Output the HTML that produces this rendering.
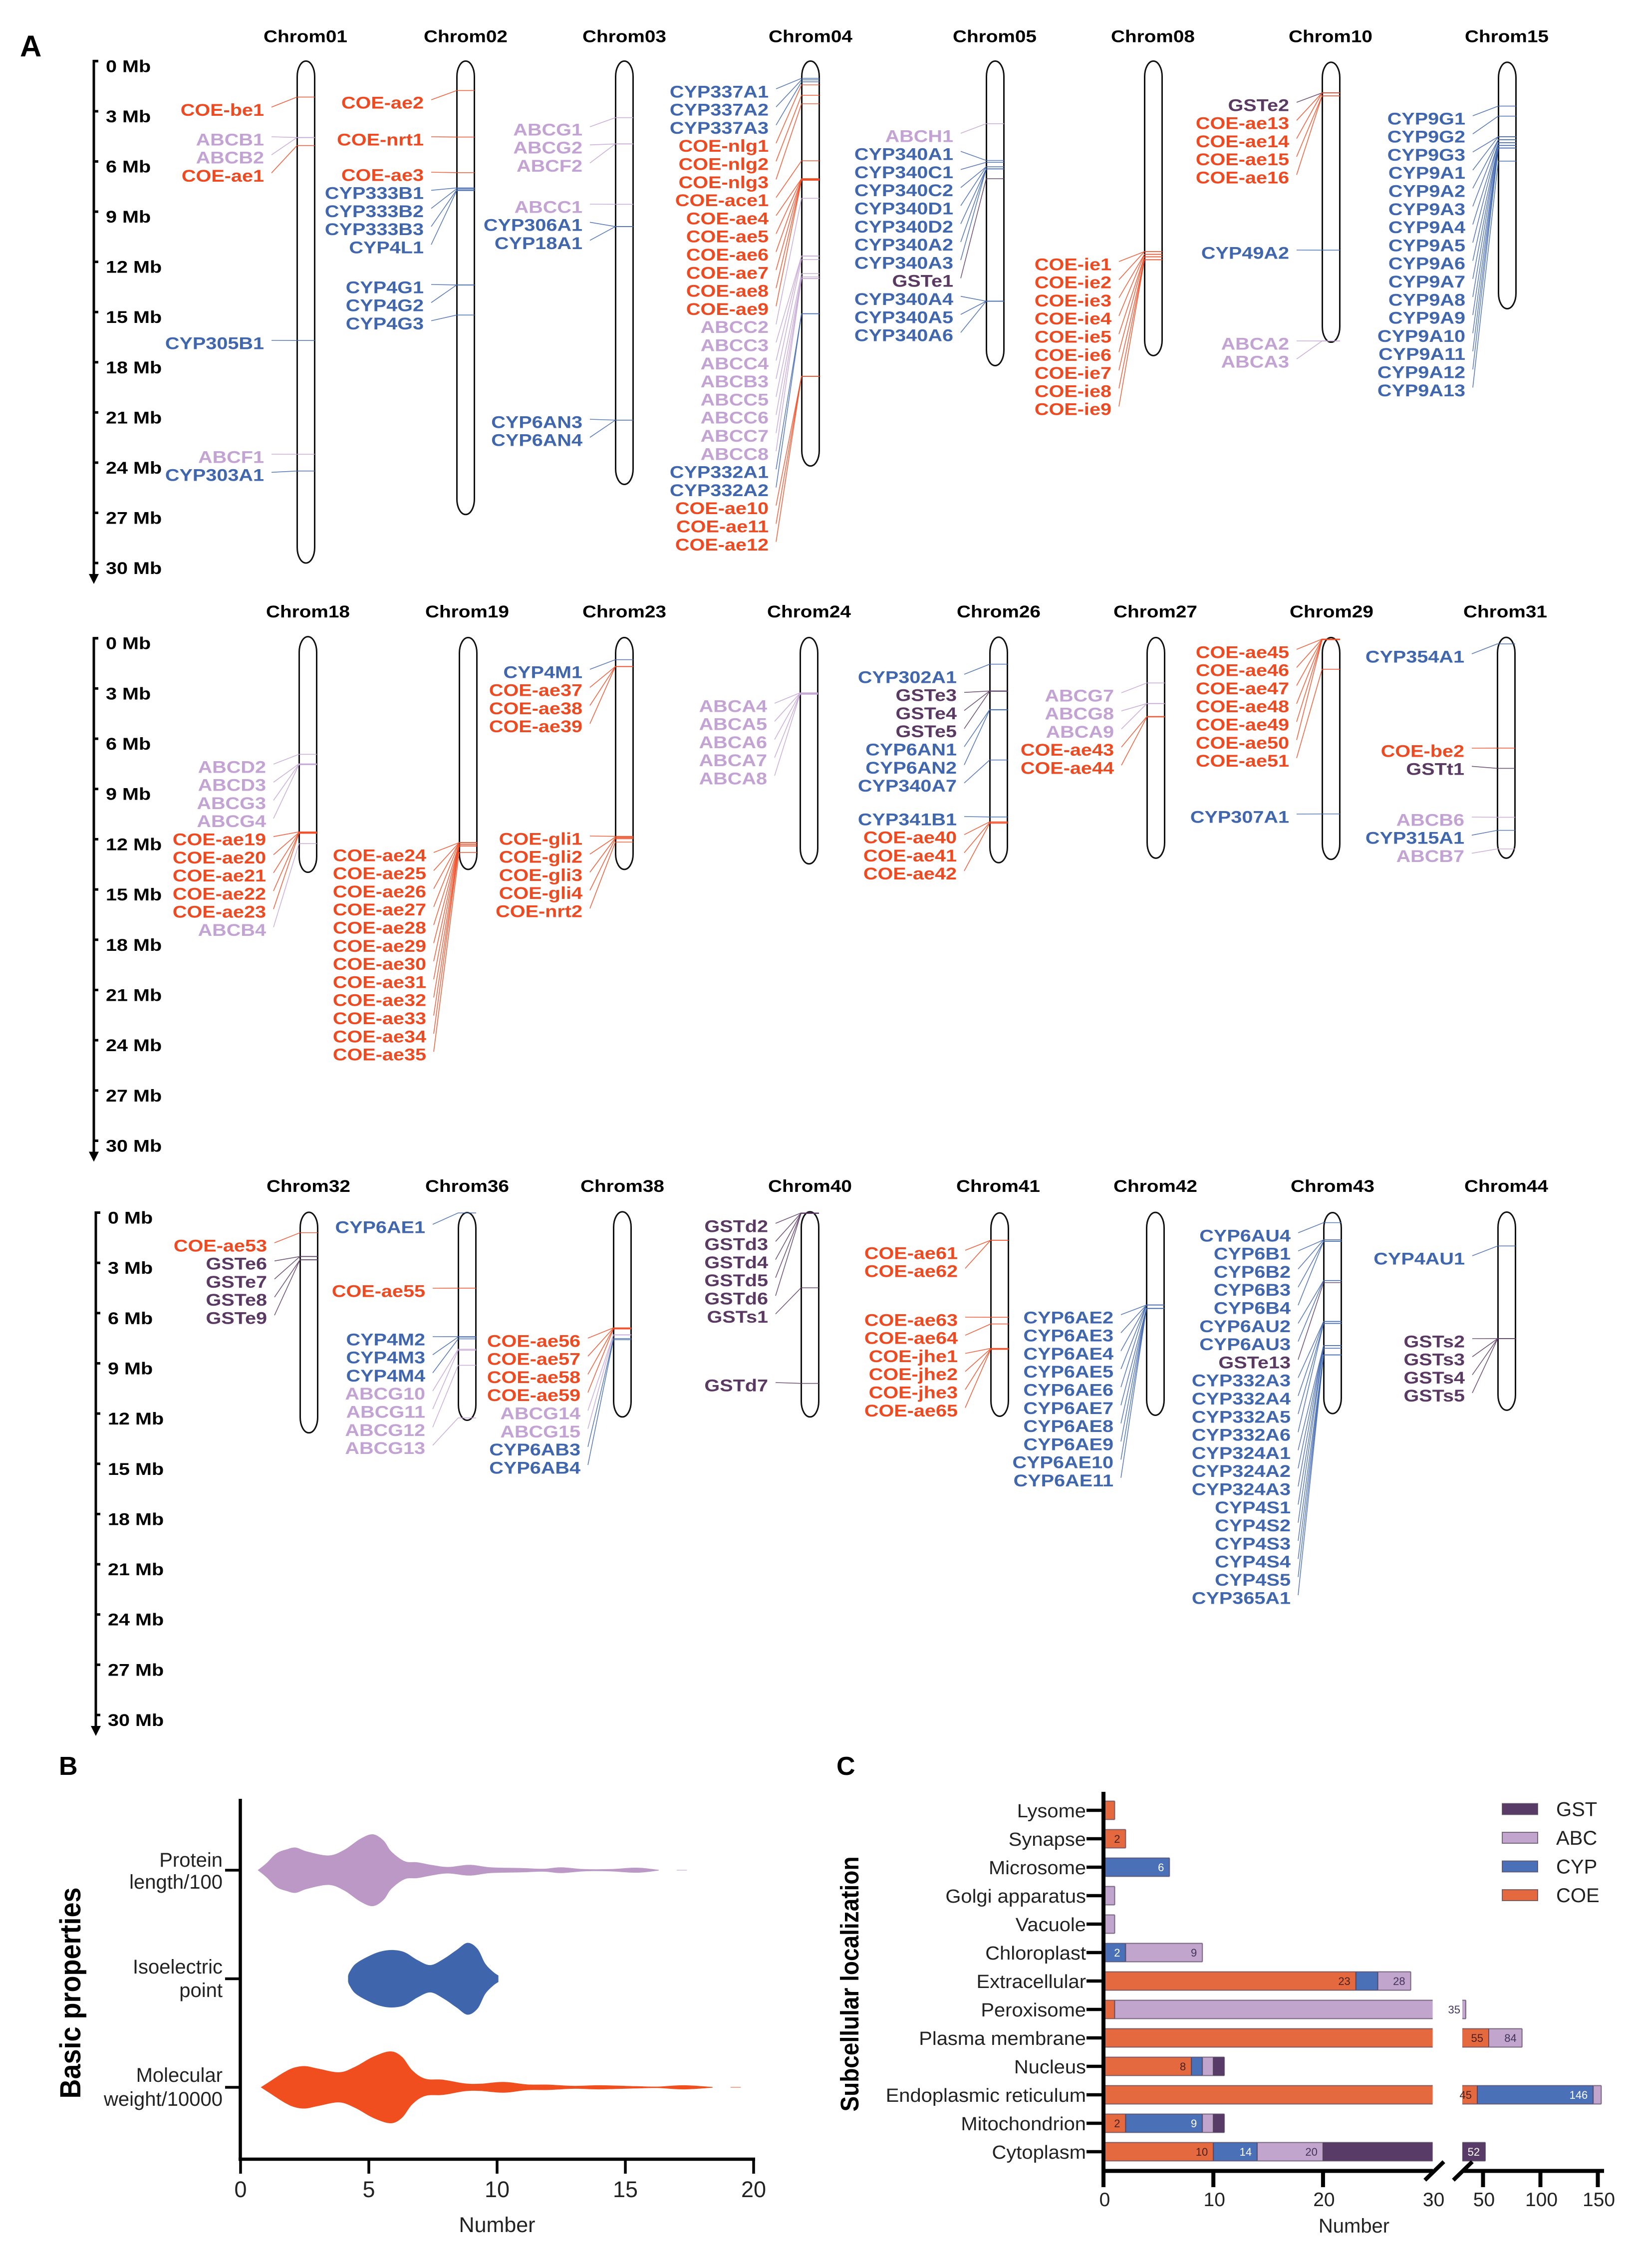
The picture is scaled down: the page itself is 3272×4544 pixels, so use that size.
<!DOCTYPE html>
<html lang="en">
<head>
<meta charset="utf-8">
<title>Chromosome distribution, basic properties and subcellular localization</title>
<style>
html,body{margin:0;padding:0;background:#fff}
svg{display:block}
text{font-family:"Liberation Sans",sans-serif}
</style>
</head>
<body>
<svg id="figure" xmlns="http://www.w3.org/2000/svg" width="3272" height="4544" viewBox="0 0 3272 4544">
  <rect width="3272" height="4544" fill="#fff"/>
  <g id="panel-a"></g>
  <g id="panel-b"></g>
  <g id="panel-c"></g>
  <text x="40" y="113" font-size="60" font-weight="bold">A</text>
  <text x="118" y="3556" font-size="52" font-weight="bold">B</text>
  <text x="1676" y="3556" font-size="52" font-weight="bold">C</text>
  <text transform="translate(161,3993) rotate(-90) scale(1,1.08)" text-anchor="middle" font-size="54" font-weight="bold">Basic properties</text>
  <text x="996" y="4472" text-anchor="middle" font-size="43" fill="#222">Number</text>
  <text transform="translate(1720,3975) rotate(-90) scale(1,1.1)" text-anchor="middle" font-size="46" font-weight="bold">Subcellular localization</text>
  <text x="2713" y="4473" text-anchor="middle" font-size="40" fill="#222">Number</text>
</svg>
<script>
// ---------- Panel A data ----------
const mbTicks = [0, 3, 6, 9, 12, 15, 18, 21, 24, 27, 30];
const chromNames = ['Chrom01','Chrom02','Chrom03','Chrom04','Chrom05','Chrom08','Chrom10','Chrom15',
  'Chrom18','Chrom19','Chrom23','Chrom24','Chrom26','Chrom27','Chrom29','Chrom31',
  'Chrom32','Chrom36','Chrom38','Chrom40','Chrom41','Chrom42','Chrom43','Chrom44'];
const chromStartMb = [0,0,0,0,0,0,0.07,0.07, -0.09,-0.04,-0.04,-0.04,-0.06,-0.04,-0.04,-0.05, -0.02,0,-0.05,-0.05,0.02,-0.01,0,-0.03];
const chromEndMb = [30,27.1,25.3,24.2,18.2,17.6,16.8,14.8, 13.97,13.8,13.8,13.47,13.4,13.13,13.2,13.13, 13.15,12.4,12.2,12.2,12.16,12.1,12.0,11.8];
const geneNames = [
 ['COE-be1','ABCB1','ABCB2','COE-ae1','CYP305B1','ABCF1','CYP303A1'],
 ['COE-ae2','COE-nrt1','COE-ae3','CYP333B1','CYP333B2','CYP333B3','CYP4L1','CYP4G1','CYP4G2','CYP4G3'],
 ['ABCG1','ABCG2','ABCF2','ABCC1','CYP306A1','CYP18A1','CYP6AN3','CYP6AN4'],
 ['CYP337A1','CYP337A2','CYP337A3','COE-nlg1','COE-nlg2','COE-nlg3','COE-ace1','COE-ae4','COE-ae5','COE-ae6','COE-ae7','COE-ae8','COE-ae9','ABCC2','ABCC3','ABCC4','ABCB3','ABCC5','ABCC6','ABCC7','ABCC8','CYP332A1','CYP332A2','COE-ae10','COE-ae11','COE-ae12'],
 ['ABCH1','CYP340A1','CYP340C1','CYP340C2','CYP340D1','CYP340D2','CYP340A2','CYP340A3','GSTe1','CYP340A4','CYP340A5','CYP340A6'],
 ['COE-ie1','COE-ie2','COE-ie3','COE-ie4','COE-ie5','COE-ie6','COE-ie7','COE-ie8','COE-ie9'],
 ['GSTe2','COE-ae13','COE-ae14','COE-ae15','COE-ae16','CYP49A2','ABCA2','ABCA3'],
 ['CYP9G1','CYP9G2','CYP9G3','CYP9A1','CYP9A2','CYP9A3','CYP9A4','CYP9A5','CYP9A6','CYP9A7','CYP9A8','CYP9A9','CYP9A10','CYP9A11','CYP9A12','CYP9A13'],
 ['ABCD2','ABCD3','ABCG3','ABCG4','COE-ae19','COE-ae20','COE-ae21','COE-ae22','COE-ae23','ABCB4'],
 ['COE-ae24','COE-ae25','COE-ae26','COE-ae27','COE-ae28','COE-ae29','COE-ae30','COE-ae31','COE-ae32','COE-ae33','COE-ae34','COE-ae35'],
 ['CYP4M1','COE-ae37','COE-ae38','COE-ae39','COE-gli1','COE-gli2','COE-gli3','COE-gli4','COE-nrt2'],
 ['ABCA4','ABCA5','ABCA6','ABCA7','ABCA8'],
 ['CYP302A1','GSTe3','GSTe4','GSTe5','CYP6AN1','CYP6AN2','CYP340A7','CYP341B1','COE-ae40','COE-ae41','COE-ae42'],
 ['ABCG7','ABCG8','ABCA9','COE-ae43','COE-ae44'],
 ['COE-ae45','COE-ae46','COE-ae47','COE-ae48','COE-ae49','COE-ae50','COE-ae51','CYP307A1'],
 ['CYP354A1','COE-be2','GSTt1','ABCB6','CYP315A1','ABCB7'],
 ['COE-ae53','GSTe6','GSTe7','GSTe8','GSTe9'],
 ['CYP6AE1','COE-ae55','CYP4M2','CYP4M3','CYP4M4','ABCG10','ABCG11','ABCG12','ABCG13'],
 ['COE-ae56','COE-ae57','COE-ae58','COE-ae59','ABCG14','ABCG15','CYP6AB3','CYP6AB4'],
 ['GSTd2','GSTd3','GSTd4','GSTd5','GSTd6','GSTs1','GSTd7'],
 ['COE-ae61','COE-ae62','COE-ae63','COE-ae64','COE-jhe1','COE-jhe2','COE-jhe3','COE-ae65'],
 ['CYP6AE2','CYP6AE3','CYP6AE4','CYP6AE5','CYP6AE6','CYP6AE7','CYP6AE8','CYP6AE9','CYP6AE10','CYP6AE11'],
 ['CYP6AU4','CYP6B1','CYP6B2','CYP6B3','CYP6B4','CYP6AU2','CYP6AU3','GSTe13','CYP332A3','CYP332A4','CYP332A5','CYP332A6','CYP324A1','CYP324A2','CYP324A3','CYP4S1','CYP4S2','CYP4S3','CYP4S4','CYP4S5','CYP365A1'],
 ['CYP4AU1','GSTs2','GSTs3','GSTs4','GSTs5']
];
const genePositionsMb = [
 [2.15,4.57,4.57,5.05,16.7,23.5,24.5],
 [1.76,4.54,6.67,7.58,7.63,7.7,7.74,13.38,13.38,15.18],
 [3.38,4.95,4.95,8.56,9.89,9.89,21.46,21.46],
 [1.03,1.12,1.24,1.42,2.04,2.55,5.96,7.03,7.03,7.08,7.08,7.12,7.12,8.2,11.65,11.65,11.86,12.7,12.9,13.0,13.0,15.1,15.1,18.84,18.84,18.84],
 [3.74,5.94,6.05,6.32,6.32,6.44,6.44,6.44,7.03,14.35,14.35,14.35],
 [11.39,11.39,11.55,11.55,11.7,11.7,11.87,11.87,11.87],
 [1.9,1.9,1.9,2.08,2.08,11.3,16.73,16.73],
 [2.69,3.29,4.52,4.52,4.7,4.7,4.88,4.88,5.04,5.04,5.04,5.2,5.2,5.2,5.2,5.98],
 [6.93,7.5,7.52,7.55,11.56,11.6,11.6,11.63,11.65,12.26],
 [12.2,12.2,12.2,12.2,12.3,12.3,12.3,12.3,12.4,12.4,12.4,12.79],
 [1.28,1.69,1.69,1.69,11.83,11.87,11.92,11.97,12.17],
 [3.26,3.28,3.3,3.33,3.35],
 [1.55,3.15,3.15,3.17,4.26,4.28,7.27,10.67,10.96,11.0,11.05],
 [2.67,3.9,3.9,4.67,4.7],
 [0.05,0.05,0.07,0.07,0.09,0.09,1.85,10.49],
 [0.34,6.56,7.77,10.69,11.47,12.58],
 [1.2,2.62,2.62,2.82,2.82],
 [0.02,4.51,7.41,7.43,7.54,8.16,8.22,9.12,12.26],
 [6.88,6.9,6.93,6.95,7.3,7.3,7.52,7.59],
 [0.02,0.03,0.04,0.05,0.05,4.49,10.2],
 [1.65,1.65,6.25,6.65,8.11,8.13,8.15,8.17],
 [5.52,5.52,5.52,5.52,5.52,5.72,5.72,5.72,5.72,5.72],
 [0.6,1.63,1.63,1.72,1.72,4.06,4.06,4.18,6.5,6.5,6.62,6.62,7.94,7.94,7.94,8.1,8.1,8.5,8.5,8.5,8.5],
 [1.99,7.52,7.52,7.52,7.52]
];

// ---------- Panel B data ----------
const violinTicks = [0, 5, 10, 15, 20];
const proteinValues = [0.67,1,1.4,1.8,2.15,2.6,3.44,4.05,4.66,5.15,5.57,5.88,6.4,6.9,7.5,8.1,8.93,9.75,10.97,11.8,12.5,13.4,14.4,15.45,16.3];
const proteinDensity = [0,0.19,0.47,0.58,0.63,0.52,0.41,0.57,0.87,1,0.83,0.52,0.25,0.22,0.14,0.09,0.15,0.08,0.06,0.04,0.08,0.03,0.03,0.07,0.01];
const proteinTail = [17.0, 17.4];
const isoValues = [4.19,4.25,4.46,4.86,5.37,5.88,6.39,6.9,7.4,7.91,8.42,8.85,9.24,9.54,9.85,10.05];
const isoDensity = [0.08,0.19,0.40,0.58,0.74,0.80,0.74,0.52,0.38,0.55,0.80,1,0.83,0.42,0.19,0.09];
const weightValues = [0.79,1.2,1.7,2.1,2.52,3.03,3.85,4.46,5.17,5.84,6.29,6.7,7.2,7.91,8.73,9.34,10.25,11.17,12,13,14,15.44,16.26,17.27,18.4];
const weightDensity = [0,0.19,0.42,0.55,0.59,0.52,0.42,0.57,0.85,1,0.85,0.47,0.24,0.21,0.11,0.10,0.15,0.08,0.075,0.04,0.057,0.03,0.02,0.057,0.01];
const weightTail = [19.1, 19.5];

// ---------- Panel C data ----------
const locCategories = ['Lysome','Synapse','Microsome','Golgi apparatus','Vacuole','Chloroplast','Extracellular','Peroxisome','Plasma membrane','Nucleus','Endoplasmic reticulum','Mitochondrion','Cytoplasm'];
const coeCounts = [1,2,0,0,0,0,23,1,55,8,45,2,10];
const cypCounts = [0,0,6,0,0,2,2,0,0,1,101,7,4];
const abcCounts = [0,0,0,1,1,7,3,34,29,1,7,1,6];
const gstCounts = [0,0,0,0,0,0,0,0,0,1,0,1,32];
const printedSegments = [[],[0],[1],[],[],[1,2],[0,2],[2],[0,2],[0],[0,1],[0,1],[0,1,2,3]];
const locTicks = [0,10,20,30,50,100,150];
const legendFamilies = ['GST','ABC','CYP','COE'];

// ---------- Styling and layout ----------
const SVGNS = 'http://www.w3.org/2000/svg';
const geneColors = {COE:'#EE4A22', CYP:'#4066AE', ABC:'#C3A3D3', GST:'#5A3A63'};
const barColors = {COE:'#E5693F', CYP:'#4A70B8', ABC:'#C2A5CD', GST:'#593B67'};
const barTextColors = {COE:'#4a1f1f', CYP:'#fff', ABC:'#43345c', GST:'#fff'};
const chromX = [613,933,1251,1624,1994,2311,2667,3020, 617,938,1251,1621,2001,2316,2667,3018, 619,936,1247,1623,2003,2315,2670,3019];
const titleX = [612,933,1251,1624,1993,2310,2666,3019, 617,936,1251,1621,2001,2315,2668,3016, 618,936,1247,1623,2000,2315,2670,3018];
const rowAxisY0 = [122.4,1278.7,2429.5];
const rowMbPx = [33.52,33.56,33.55];
const rowAxisX = [188,188,192];
const rowTitleY = [72.7,1225,2376];
const labelStep = 36.3;
const labelGroups = [
 [[1,219.6],[3,279],[1,687],[2,915]],
 [[1,205],[1,279],[5,350],[3,575]],
 [[3,259],[3,414],[2,845]],
 [[26,183]],
 [[12,272]],
 [[9,529]],
 [[5,210],[1,506],[2,688]],
 [[16,237]],
 [[10,1536]],
 [[12,1713]],
 [[4,1346],[5,1680]],
 [[5,1414]],
 [[7,1356],[4,1641]],
 [[5,1393]],
 [[7,1306],[1,1636]],
 [[1,1315],[2,1504],[3,1642]],
 [[5,2495]],
 [[1,2458],[1,2586],[7,2683]],
 [[8,2686]],
 [[6,2456],[1,2775]],
 [[2,2510],[6,2644]],
 [[10,2639]],
 [[21,2475]],
 [[1,2521],[4,2687]]
];

function family(name){ return name.slice(0,3); }
function make(tag, parent, attrs){
  const el = document.createElementNS(SVGNS, tag);
  for (const k in attrs) el.setAttribute(k, attrs[k]);
  parent.appendChild(el);
  return el;
}
function rowOf(i){ return Math.floor(i / 8); }
function yMb(row, mb){ return rowAxisY0[row] + mb * rowMbPx[row]; }

// ---------- Panel A ----------
const panelA = document.getElementById('panel-a');
rowAxisY0.forEach(function(_, row){
  const ax = rowAxisX[row];
  const top = yMb(row, 0), bottom = yMb(row, 30);
  const axis = make('path', panelA, {d:'M'+(ax+9)+' '+top+'H'+ax+'V'+(bottom+24), fill:'none', stroke:'#000', 'stroke-width':5});
  
  
  const arrow = make('path', panelA, {d:'M'+(ax-10)+' '+(bottom+22)+'H'+(ax+10)+'L'+ax+' '+(bottom+42)+'Z', fill:'#000'});
  
  
  mbTicks.forEach(function(t){
    const y = yMb(row, t);
    const tick = make('line', panelA, {x1:ax, x2:ax+9, y1:y, y2:y, stroke:'#000', 'stroke-width':5});
    
    
    const lab = make('text', panelA, {transform:'translate('+(ax+24)+','+(y+22)+') scale(1.165,1)', 'font-size':34, 'font-weight':'bold', fill:'#000'});
    lab.textContent = t + ' Mb';
    
    
  });
});

chromNames.forEach(function(name, i){
  const row = rowOf(i);
  const g = make('g', panelA, {});
  
  
  const cx = chromX[i];
  const title = make('text', g, {transform:'translate('+titleX[i]+','+(rowTitleY[row]+12)+') scale(1.14,1)', 'text-anchor':'middle', 'font-size':34, 'font-weight':'bold', fill:'#000'});
  title.textContent = name;
  
  
  const y1 = yMb(row, chromStartMb[i]), y2 = yMb(row, chromEndMb[i]);
  const capsule = make('rect', g, {x:cx-17.5, y:y1, width:35, height:y2-y1, rx:17.5, ry:31, fill:'#fff', stroke:'#111', 'stroke-width':3});
  
  
  const labelYs = [];
  labelGroups[i].forEach(function(group){
    for (let k = 0; k < group[0]; k++) labelYs.push(group[1] + k * labelStep);
  });
  geneNames[i].forEach(function(gene, j){
    const color = geneColors[family(gene)];
    const ly = labelYs[j];
    const my = yMb(row, genePositionsMb[i][j]);
    const link = make('path', g, {d:'M'+(cx-69)+' '+(ly-5)+'L'+(cx-18)+' '+my+'H'+(cx+18), fill:'none', stroke:color, 'stroke-width':1.6, 'stroke-opacity':0.85});
    
    
    const lab = make('text', g, {transform:'translate('+(cx-84)+','+(ly+12.3)+') scale(1.165,1)', 'text-anchor':'end', 'font-size':34, 'font-weight':'bold', fill:color});
    lab.textContent = gene;
    
    
  });
});

// ---------- Panel B ----------
const panelB = document.getElementById('panel-b');
function xB(v){ return 482 + 51.4 * v; }
const densityPx = 72;
function smoothSide(pts){
  let d = '';
  for (let i = 0; i < pts.length - 1; i++){
    const p0 = pts[Math.max(i-1,0)], p1 = pts[i], p2 = pts[i+1], p3 = pts[Math.min(i+2,pts.length-1)];
    const c1x = p1[0] + (p2[0]-p0[0])/6, c1y = p1[1] + (p2[1]-p0[1])/6;
    const c2x = p2[0] - (p3[0]-p1[0])/6, c2y = p2[1] - (p3[1]-p1[1])/6;
    d += 'C'+c1x.toFixed(1)+' '+c1y.toFixed(1)+' '+c2x.toFixed(1)+' '+c2y.toFixed(1)+' '+p2[0].toFixed(1)+' '+p2[1].toFixed(1);
  }
  return d;
}
function drawViolin(values, density, cy, color, name, tail){
  const upper = values.map(function(v,i){ return [xB(v), cy - density[i]*densityPx]; });
  const lower = values.map(function(v,i){ return [xB(v), cy + density[i]*densityPx]; }).reverse();
  const d = 'M'+upper[0][0]+' '+upper[0][1]+smoothSide(upper)+'L'+lower[0][0]+' '+lower[0][1]+smoothSide(lower)+'Z';
  const shape = make('path', panelB, {d:d, fill:color});
  
  
  if (tail){
    const t = make('line', panelB, {x1:xB(tail[0]), x2:xB(tail[1]), y1:cy, y2:cy, stroke:color, 'stroke-width':2, 'stroke-opacity':0.5});
    
    
  }
}
drawViolin(proteinValues, proteinDensity, 3747, '#BC98C7', 'violin-protein-length', proteinTail);
drawViolin(isoValues, isoDensity, 3964.5, '#3F65AD', 'violin-isoelectric-point', null);
drawViolin(weightValues, weightDensity, 4182, '#F04E1F', 'violin-molecular-weight', weightTail);

const bYAxis = make('line', panelB, {x1:481.5, x2:481.5, y1:3604, y2:4329, stroke:'#000', 'stroke-width':6.5});


const bXAxis = make('line', panelB, {x1:478, x2:xB(20)+3, y1:4326, y2:4326, stroke:'#000', 'stroke-width':6.5});


violinTicks.forEach(function(t){
  const tick = make('line', panelB, {x1:xB(t), x2:xB(t), y1:4326, y2:4355, stroke:'#000', 'stroke-width':5.5});
  
  
  const lab = make('text', panelB, {x:xB(t), y:4402, 'text-anchor':'middle', 'font-size':45, fill:'#222'});
  lab.textContent = t;
  
  
});
[[3747,'Protein',3740,'length/100',3784],[3964.5,'Isoelectric',3954,'point',4001],[4182,'Molecular',4171,'weight/10000',4219]].forEach(function(r){
  const tick = make('line', panelB, {x1:451, x2:482, y1:r[0], y2:r[0], stroke:'#000', 'stroke-width':5.5});
  
  
  const a = make('text', panelB, {x:446, y:r[2], 'text-anchor':'end', 'font-size':40, fill:'#222'});
  a.textContent = r[1];
  
  
  const b = make('text', panelB, {x:446, y:r[4], 'text-anchor':'end', 'font-size':40, fill:'#222'});
  b.textContent = r[3];
  
  
});

// ---------- Panel C ----------
const panelC = document.getElementById('panel-c');
const breakValue = 30;
function xLeft(v){ return 2211.5 + 21.97 * v; }
function xRight(v){ return Math.max(2930, 2983 + (v - 55) * 2.3); }
function xC(v){ return v <= breakValue ? xLeft(v) : xRight(v); }
function yC(i){ return 3627 + i * 57; }
const stackOrder = [['COE',coeCounts],['CYP',cypCounts],['ABC',abcCounts],['GST',gstCounts]];
const barH = 37;
function drawSegment(x1, x2, y, fam, openLeft, openRight, name){
  const seg = make('rect', panelC, {x:x1, y:y-barH/2, width:x2-x1, height:barH, fill:barColors[fam]});
  
  
  const t = y-barH/2, b = y+barH/2;
  let d = 'M'+x1+' '+t+'H'+x2+'M'+x1+' '+b+'H'+x2;
  if (!openLeft) d += 'M'+x1+' '+t+'V'+b;
  if (!openRight) d += 'M'+x2+' '+t+'V'+b;
  const edge = make('path', panelC, {d:d, fill:'none', stroke:'#4d3d55', 'stroke-width':2, 'stroke-opacity':0.7});
  
  
}
locCategories.forEach(function(cat, i){
  const y = yC(i);
  const slug = cat.toLowerCase().replace(/ /g,'-');
  let start = 0;
  stackOrder.forEach(function(series, s){
    const val = series[1][i];
    const end = start + val;
    if (val > 0){
      const fam = series[0];
      if (start < breakValue){
        drawSegment(xLeft(start), xLeft(Math.min(end,breakValue)), y, fam, false, end > breakValue, 'bar-' + slug + '-' + fam.toLowerCase());
      }
      if (end > breakValue){
        drawSegment(xRight(Math.max(start,breakValue)), xRight(end), y, fam, start <= breakValue, false, 'bar-' + slug + '-' + fam.toLowerCase() + '-upper');
      }
      if (printedSegments[i].indexOf(s) >= 0){
        const lab = make('text', panelC, {x:xC(end)-11, y:y+8, 'text-anchor':'end', 'font-size':22, fill:barTextColors[fam]});
        lab.textContent = end;
        
        
      }
    }
    start = end;
  });
  const tick = make('line', panelC, {x1:2177, x2:2212, y1:y, y2:y, stroke:'#000', 'stroke-width':6.5});
  
  
  const lab = make('text', panelC, {transform:'translate(2176,'+(y+14)+') scale(1.05,1)', 'text-anchor':'end', 'font-size':38, fill:'#222'});
  lab.textContent = cat;
  
  
});
const cYAxis = make('line', panelC, {x1:2211, x2:2211, y1:3590, y2:4382, stroke:'#000', 'stroke-width':8});


const cXLeft = make('line', panelC, {x1:2207, x2:2871, y1:4349.5, y2:4349.5, stroke:'#000', 'stroke-width':8});


const cXRight = make('line', panelC, {x1:2933, x2:3214, y1:4349.5, y2:4349.5, stroke:'#000', 'stroke-width':8});


[[2855,2893],[2912,2950]].forEach(function(b){
  const mark = make('line', panelC, {x1:b[0], x2:b[1], y1:4368, y2:4331, stroke:'#000', 'stroke-width':8});
  
  
});
locTicks.forEach(function(t){
  const x = t <= breakValue ? xLeft(t) : xRight(t);
  if (t !== breakValue && t !== 0){
    const tick = make('line', panelC, {x1:x, x2:x, y1:4349, y2:4382, stroke:'#000', 'stroke-width':8});
    
    
  }
  const lab = make('text', panelC, {x:x+2, y:4420, 'text-anchor':'middle', 'font-size':39, fill:'#222'});
  lab.textContent = t;
  
  
});
legendFamilies.forEach(function(fam, i){
  const y = 3624.5 + i * 57.5;
  const sw = make('rect', panelC, {x:3010, y:y-11, width:71, height:22, fill:barColors[fam], stroke:'#4d3d55', 'stroke-width':2, 'stroke-opacity':0.7});
  
  
  const lab = make('text', panelC, {x:3118, y:y+14, 'font-size':40, fill:'#222'});
  lab.textContent = fam;
  
  
});
</script>
</body>
</html>
